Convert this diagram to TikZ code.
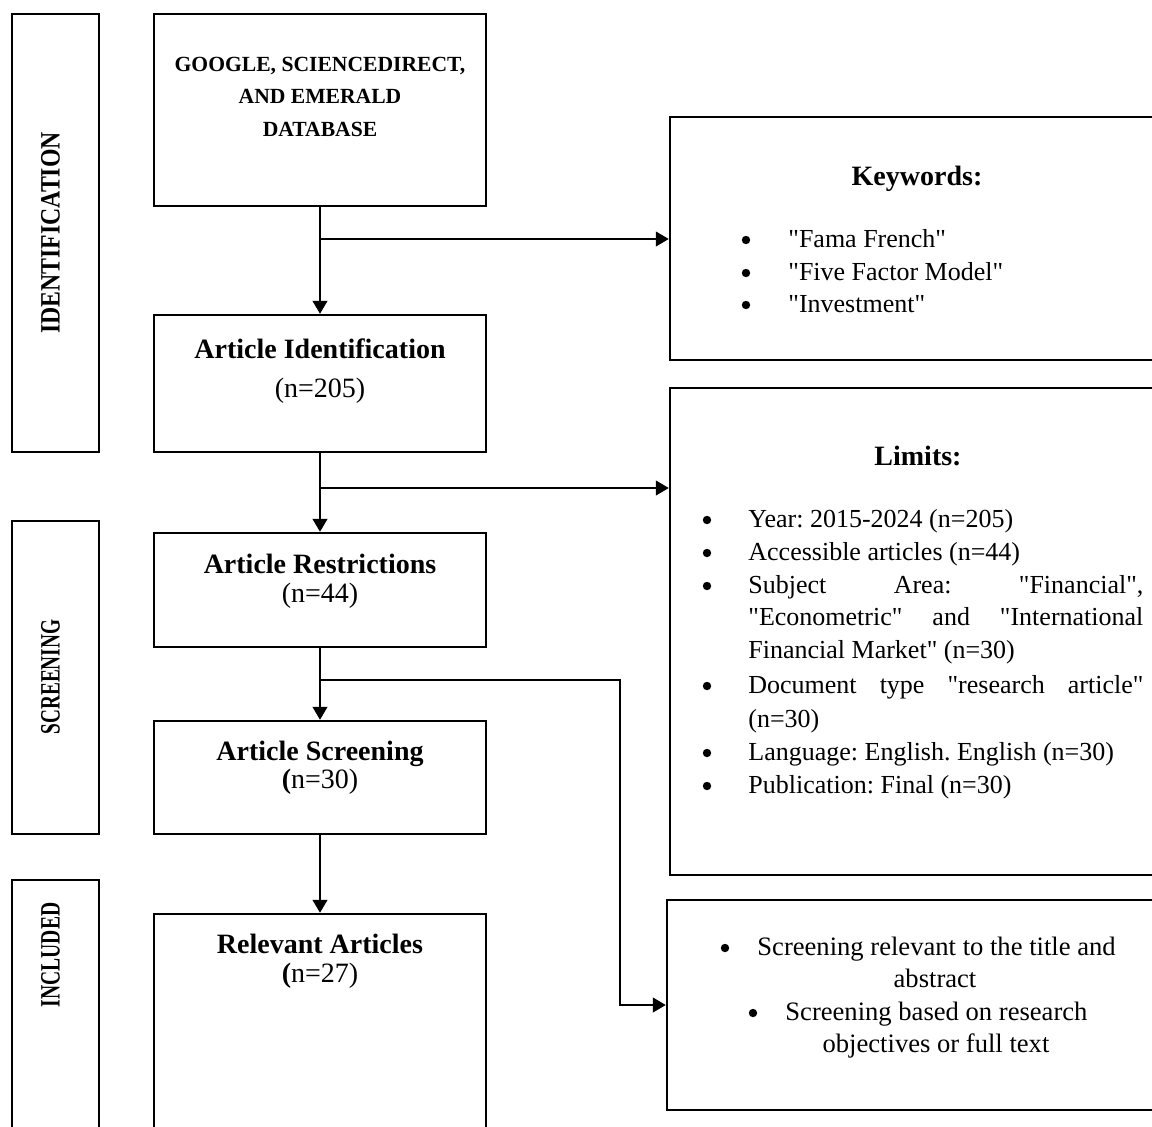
\documentclass[tikz,border=0pt]{standalone}
\usepackage{fontspec}
\setmainfont{Liberation Serif}[Ligatures=TeXOff]
\frenchspacing
\usetikzlibrary{arrows.meta,fit}
\begin{document}
\begin{tikzpicture}[x=0.5pt,y=-0.5pt,
  box/.style={draw, line width=1.25pt, inner sep=0pt},
  conn/.style={line width=0.6pt},
  arr/.style={conn, -{Triangle[length=6.5pt,width=7.5pt]}},
  head/.style={font=\fontsize{14}{16}\selectfont\bfseries, inner sep=0pt, anchor=base},
  sub/.style={font=\fontsize{14}{16}\selectfont, inner sep=0pt, anchor=base},
  caps/.style={font=\fontsize{10.8}{13}\selectfont\bfseries, inner sep=0pt, anchor=base},
  side/.style={font=\fontsize{14}{16}\selectfont\bfseries, inner sep=0pt, rotate=90, anchor=center},
  body/.style={font=\fontsize{13}{15}\selectfont, inner sep=0pt, anchor=base west},
  dot/.style={circle, fill, inner sep=0pt, minimum size=4.2pt, yshift=3.5pt},
  sbody/.style={font=\fontsize{13.3}{15}\selectfont, inner sep=0pt, anchor=base west},
  sbodyc/.style={font=\fontsize{13.3}{15}\selectfont, inner sep=0pt, anchor=base}
]
\useasboundingbox (0,0) rectangle (1152,1126);
\clip (0,0) rectangle (1152,1126);

% side labels
\node[box, fit={(12,14) (99,452)}] (sid) {};
\node[box, fit={(12,521) (99,834)}] (ssc) {};
\node[box, fit={(12,880) (99,1140)}] (sin) {};
\node[side] (lid) at (50.5,233) {\scalebox{0.85}[1]{IDENTIFICATION}};
\node[side] (lsc) at (50.5,677) {\scalebox{0.69}[1]{SCREENING}};
\node[side] (lin) at (50.5,955) {\scalebox{0.70}[1]{INCLUDED}};

% main column
\node[box, fit={(154,14) (486,206)}] (b1) {};
\node[box, fit={(154,315) (486,452)}] (b2) {};
\node[box, fit={(154,533) (486,647)}] (b3) {};
\node[box, fit={(154,721) (486,834)}] (b4) {};
\node[box, fit={(154,914) (486,1140)}] (b5) {};

\node[caps] (t1a) at (320,71) {GOOGLE, SCIENCEDIRECT,};
\node[caps] (t1b) at (320,103) {AND EMERALD};
\node[caps] (t1c) at (320,136) {DATABASE};

\node[head] (t2a) at (320,358) {Article Identification};
\node[sub] (t2b) at (320,397) {(n=205)};
\node[head] (t3a) at (320,573) {Article Restrictions};
\node[sub] (t3b) at (320,602) {(n=44)};
\node[head] (t4a) at (320,760) {Article Screening};
\node[sub] (t4b) at (320,788) {\textbf{(}n=30)};
\node[head] (t5a) at (320,953) {Relevant Articles};
\node[sub] (t5b) at (320,982) {\textbf{(}n=27)};

% right boxes
\node[box, fit={(670,117) (1170,360)}] (kw) {};
\node[box, fit={(670,388) (1170,875)}] (lim) {};
\node[box, fit={(667,900) (1170,1110)}] (scr) {};

\node[head] (kwh) at (917,185) {Keywords:};
\node[dot] (kb1) at (746,247) {};
\node[body] (kt1) at (788,247) {"Fama French"};
\node[dot] (kb2) at (746,280) {};
\node[body] (kt2) at (788,280) {"Five Factor Model"};
\node[dot] (kb3) at (746,312) {};
\node[body] (kt3) at (788,312) {"Investment"};

\node[head] (limh) at (918,465) {Limits:};
\node[dot] (lb1) at (707,527) {};
\node[body] (lt1) at (748,527) {Year: 2015-2024 (n=205)};
\node[dot] (lb2) at (707,560) {};
\node[body] (lt2) at (748,560) {Accessible articles (n=44)};
\node[dot] (lb3) at (707,593) {};
\node[body] (lt3) at (748,593) {\makebox[197.5pt][s]{Subject Area: "Financial",}};
\node[body] (lt3b) at (748,625) {\makebox[197.5pt][s]{"Econometric" and "International}};
\node[body] (lt3c) at (748,658) {Financial Market" (n=30)};
\node[dot] (lb4) at (707,693) {};
\node[body] (lt4) at (748,693) {\makebox[197.5pt][s]{Document type "research article"}};
\node[body] (lt4b) at (748,727) {(n=30)};
\node[dot] (lb5) at (707,760) {};
\node[body] (lt5) at (748,760) {Language: English. English (n=30)};
\node[dot] (lb6) at (707,793) {};
\node[body] (lt6) at (748,793) {Publication: Final (n=30)};

\node[dot] (sb1) at (725,955) {};
\node[sbody] (st1) at (757,955) {Screening relevant to the title and};
\node[sbodyc] (st1b) at (935,987) {abstract};
\node[dot] (sb2) at (753,1020) {};
\node[sbody] (st2) at (785,1020) {Screening based on research};
\node[sbodyc] (st2b) at (936,1052) {objectives or full text};

% connectors
\coordinate (j1) at (320,239);
\coordinate (j2) at (320,488);
\coordinate (j3) at (320,680);
\coordinate (k3) at (620,680);
\draw[arr] (b1.south) -- (b2.north);
\draw[arr] (j1) -- (j1 -| kw.west);
\draw[arr] (b2.south) -- (b3.north);
\draw[arr] (j2) -- (j2 -| lim.west);
\draw[arr] (b3.south) -- (b4.north);
\draw[arr] (j3) -- (k3) |- (scr.west);
\draw[arr] (b4.south) -- (b5.north);
\end{tikzpicture}
\end{document}
